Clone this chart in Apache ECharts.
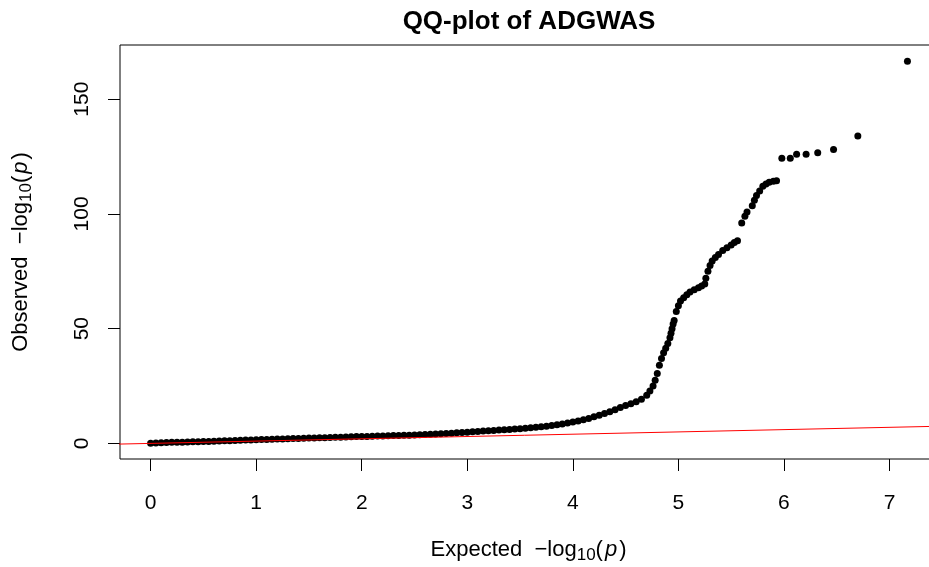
<!DOCTYPE html>
<html>
<head>
<meta charset="utf-8">
<script src="https://cdn.jsdelivr.net/npm/echarts@6/dist/echarts.min.js"></script>
<style>html,body{margin:0;padding:0;background:#fff}#c{width:929px;height:567px}</style>
</head>
<body>
<div id="c"></div>
<script>
// Expected -log10(p) values
const expected = [
  0.00,0.05,0.10,0.15,0.20,0.25,0.30,0.35,0.40,0.45,
  0.50,0.55,0.60,0.65,0.70,0.75,0.80,0.85,0.90,0.95,
  1.00,1.05,1.10,1.15,1.20,1.25,1.30,1.35,1.40,1.45,
  1.50,1.55,1.60,1.65,1.70,1.75,1.80,1.85,1.90,1.95,
  2.00,2.05,2.10,2.15,2.20,2.25,2.30,2.35,2.40,2.45,
  2.50,2.55,2.60,2.65,2.70,2.75,2.80,2.85,2.90,2.95,
  3.00,3.05,3.10,3.15,3.20,3.25,3.30,3.35,3.40,3.45,
  3.50,3.55,3.60,3.65,3.70,3.75,3.80,3.85,3.90,3.95,
  4.00,4.05,4.10,4.15,4.20,4.25,4.30,4.35,4.40,4.45,
  4.50,4.55,4.60,4.65,4.70,4.73,4.76,4.78,4.80,4.82,
  4.84,4.86,4.88,4.90,4.92,4.93,4.94,4.95,4.96,4.98,
  5.00,5.02,5.05,5.08,5.11,5.15,5.19,5.22,5.25,5.26,
  5.28,5.30,5.32,5.35,5.38,5.42,5.46,5.50,5.53,5.56,
  5.60,5.63,5.65,5.70,5.72,5.74,5.77,5.80,5.83,5.86,
  5.90,5.93,5.98,6.06,6.12,6.21,6.32,6.47,6.70,7.17
];
// Observed -log10(p) values
const observed = [
  0.1,0.2,0.3,0.35,0.45,0.5,0.55,0.6,0.7,0.75,
  0.8,0.85,0.95,1.0,1.1,1.2,1.3,1.35,1.45,1.5,
  1.6,1.65,1.75,1.8,1.9,1.95,2.0,2.1,2.15,2.25,
  2.3,2.4,2.45,2.5,2.6,2.65,2.7,2.8,2.9,2.95,
  3.0,3.05,3.1,3.2,3.25,3.3,3.4,3.45,3.5,3.6,
  3.7,3.8,3.9,4.0,4.1,4.2,4.3,4.45,4.6,4.75,
  4.9,5.05,5.2,5.35,5.5,5.65,5.8,5.95,6.1,6.25,
  6.4,6.6,6.8,7.0,7.25,7.5,7.75,8.1,8.5,8.9,
  9.3,9.8,10.3,10.9,11.6,12.3,13.0,13.8,14.7,15.6,
  16.5,17.3,18.1,19.2,21.0,22.8,25.0,27.5,30.5,34,
  37,39.5,41.5,43.5,46,48,50,52,53.5,57.5,
  60,62,63.5,64.8,66,67,67.8,68.6,69.5,72,
  75,77.5,79.5,81,82.3,84,85.3,86.5,87.5,88.3,
  96,99,100.8,103.5,106,108,110,112,113,113.8,
  114.2,114.5,124.2,124.2,126,126,126.7,128.1,134,166.5
];
// Reference line y = x (endpoints span the plot region)
const refLineX = [-0.3, 7.5];
const xTicks = [0,1,2,3,4,5,6,7];
const yTicks = [0,50,100,150];

const points = expected.map((e,i)=>[e, observed[i]]);
const refLine = refLineX.map(v=>[v,v]);

const FONT = '"Liberation Sans", Arial, sans-serif';
const chart = echarts.init(document.getElementById('c'), null, {renderer:'canvas'});
const nameRich = {
  a:{fontSize:22,fontFamily:FONT,color:'#000'},
  s:{fontSize:17,fontFamily:FONT,color:'#000',padding:[11,0,0,0]},
  i:{fontSize:22,fontFamily:FONT,color:'#000',fontStyle:'italic',padding:[0,2,0,2]}
};
chart.setOption({
  animation:false,
  backgroundColor:'#fff',
  title:{
    text:'QQ-plot of ADGWAS',
    left:524, top:4, textAlign:'center',
    textStyle:{fontFamily:FONT,fontWeight:'bold',fontSize:26,color:'#000'}
  },
  grid:{left:120,top:45,bottom:108,right:-8,containLabel:false,outerBoundsMode:'none',show:true,borderColor:'#000',borderWidth:1,backgroundColor:'transparent'},
  xAxis:{
    type:'value', min:-0.29, max:7.45,
    name:'{a|Expected  \u2212log}{s|10}{a|(}{i|p}{a|)}',
    nameLocation:'middle', nameGap:77,
    nameTextStyle:{rich:nameRich},
    axisLine:{show:false,onZero:false},
    axisTick:{show:true,length:12,lineStyle:{color:'#000'},customValues:xTicks},
    axisLabel:{show:true,fontFamily:FONT,fontSize:21,color:'#000',margin:34,customValues:xTicks},
    splitLine:{show:false}
  },
  yAxis:{
    type:'value', min:-6.8, max:173.6,
    name:'{a|Observed  \u2212log}{s|10}{a|(}{i|p}{a|)}',
    nameLocation:'middle', nameGap:85, nameRotate:90,
    nameTextStyle:{rich:nameRich},
    axisLine:{show:false,onZero:false},
    axisTick:{show:true,length:12,lineStyle:{color:'#000'},customValues:yTicks},
    axisLabel:{show:true,fontFamily:FONT,fontSize:21,color:'#000',margin:27,rotate:90,customValues:yTicks},
    splitLine:{show:false}
  },
  series:[
    {type:'scatter',data:points,symbol:'circle',symbolSize:7,itemStyle:{color:'#000',opacity:1},z:2,silent:true},
    {type:'line',data:refLine,symbol:'none',lineStyle:{color:'#FF0000',width:1},z:3,silent:true,clip:true}
  ]
});
</script>
</body>
</html>
